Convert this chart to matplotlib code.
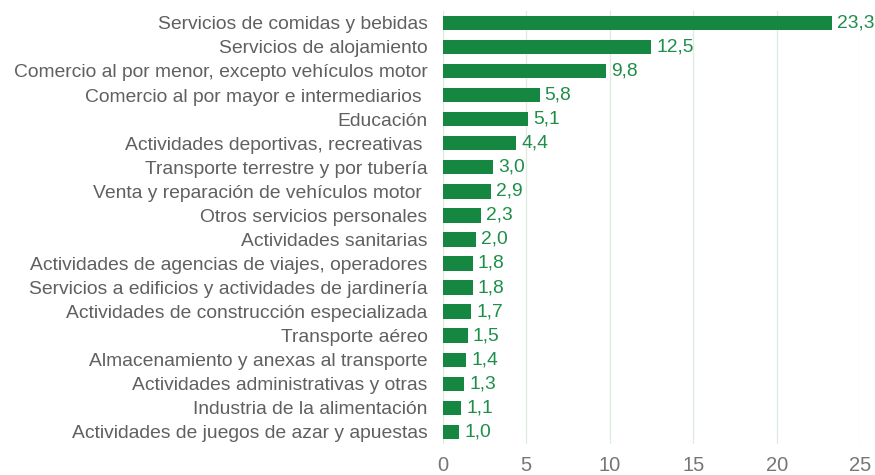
import matplotlib
matplotlib.use("Agg")
import matplotlib.pyplot as plt

categories = [
    "Servicios de comidas y bebidas",
    "Servicios de alojamiento",
    "Comercio al por menor, excepto vehículos motor",
    "Comercio al por mayor e intermediarios ",
    "Educación",
    "Actividades deportivas, recreativas ",
    "Transporte terrestre y por tubería",
    "Venta y reparación de vehículos motor ",
    "Otros servicios personales",
    "Actividades sanitarias",
    "Actividades de agencias de viajes, operadores",
    "Servicios a edificios y actividades de jardinería",
    "Actividades de construcción especializada",
    "Transporte aéreo",
    "Almacenamiento y anexas al transporte",
    "Actividades administrativas y otras",
    "Industria de la alimentación",
    "Actividades de juegos de azar y apuestas",
]
values = [23.3, 12.5, 9.8, 5.8, 5.1, 4.4, 3.0, 2.9, 2.3, 2.0, 1.8, 1.8, 1.7, 1.5, 1.4, 1.3, 1.1, 1.0]
xticks = [0, 5, 10, 15, 20, 25]

plt.rcParams['font.family'] = ['Liberation Sans', 'DejaVu Sans']

fig = plt.figure(figsize=(8.75, 4.75), dpi=100)
ax = fig.add_axes([0.506, 0.0653, 0.477, 0.912])

bar_color = "#168740"
label_color = "#1E8E4A"
text_color = "#606060"
tick_color = "#767676"

ypos = list(range(len(categories)))
ax.barh(ypos, values, height=0.6, color=bar_color, zorder=3)
for y, v in zip(ypos, values):
    ax.text(v + 0.3, y, f"{v:.1f}".replace(".", ","), va="center", ha="left",
            color=label_color, fontsize=13.9, zorder=4)

ax.set_ylim(len(categories) - 0.5, -0.5)
ax.set_xlim(0, 25)
ax.set_yticks(ypos)
ax.set_yticklabels(categories, fontsize=13.9, color=text_color)
ax.set_xticks(xticks)
ax.set_xticklabels([str(t) for t in xticks], fontsize=14.5, color=tick_color)
ax.tick_params(axis="y", length=0, pad=11)
ax.tick_params(axis="x", length=0, pad=8.5)
ax.xaxis.grid(True, color="#DCEBDD", linewidth=0.9, zorder=0)
ax.yaxis.grid(False)
for s in ax.spines.values():
    s.set_visible(False)

fig.savefig("out.png", dpi=100)
